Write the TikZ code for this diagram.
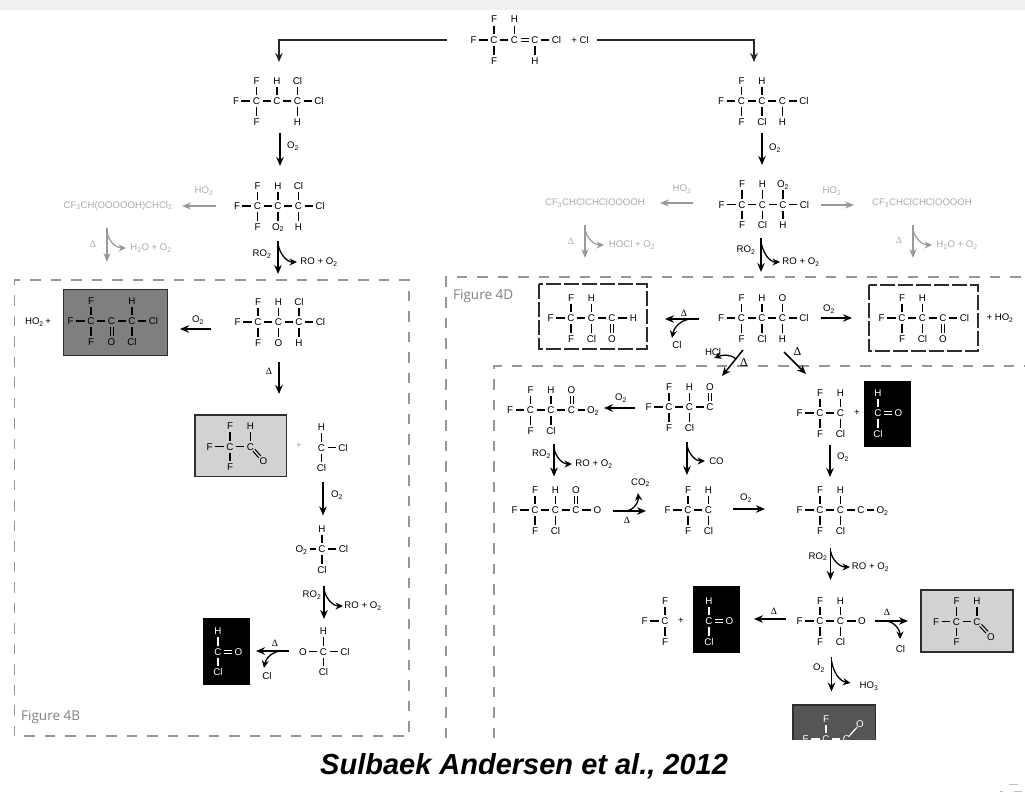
\documentclass[tikz,border=0pt]{standalone}
\usepackage{fontspec}
\setmainfont{Liberation Sans}
\newfontfamily\figfont{Open Sans}
\newfontfamily\serfont{Liberation Serif}
\usetikzlibrary{arrows.meta}
\definecolor{dashgray}{HTML}{969696}
\definecolor{pale}{HTML}{ABABAB}
\definecolor{arrowgray}{HTML}{999999}
\definecolor{lightfill}{HTML}{D2D2D2}
\definecolor{darkfill}{HTML}{7F7F7F}
\definecolor{deepfill}{HTML}{555555}
\definecolor{framedark}{HTML}{2E2E2E}
\newcommand\ssb[1]{\textsubscript{#1}}
\newcommand\dlt{{\serfont Δ}}
\def\nomark{-}\def\kindu{u}\def\kindd{d}\def\kinde{e}
\tikzset{
  atom/.style={font=\fontsize{9.8}{10}\selectfont,inner sep=2.3pt,text height=7pt,text depth=0pt},
  bond/.style={line width=1.4pt},
  dbond/.style={line width=1pt},
  lab/.style={font=\fontsize{9.6}{10}\selectfont,inner sep=0pt},
  palelab/.style={lab,text=pale},
  rxn/.style={line width=1.5pt,draw=black,-{Stealth[length=9pt,width=7.5pt]}},
  bendarr/.style={line width=1.3pt,draw=black,-{Stealth[length=7.5pt,width=7pt]}},
  rxng/.style={line width=1.4pt,draw=arrowgray,-{Stealth[length=9pt,width=7pt]}},
  bendg/.style={line width=1.2pt,draw=arrowgray,-{Stealth[length=7.5pt,width=7pt]}},
  mainarr/.style={line width=1.5pt,draw=black!85,-{Stealth[length=9pt,width=7.5pt]}},
  dashframe/.style={draw=dashgray,line width=1.3pt,dash pattern=on 10.5pt off 10pt},
  inkframe/.style={draw=framedark,line width=1.5pt,dash pattern=on 15pt off 3pt},
  solidbox/.style={draw=framedark,line width=1.2pt},
}
% double bond between two named atoms, lines shifted by +-(dx,dy) pt
\newcommand\Dbl[4]{%
  \draw[dbond,transform canvas={xshift=#3pt,yshift=#4pt}] (#1)--(#2);
  \draw[dbond,transform canvas={xshift=-#3pt,yshift=-#4pt}] (#1)--(#2);}
% diagonal C=O: lines run closer to the letters
\newcommand\DblD[2]{%
  \draw[dbond,shorten <=-3pt,shorten >=-2.5pt,transform canvas={xshift=1pt,yshift=1pt}] (#1)--(#2);
  \draw[dbond,shorten <=-3pt,shorten >=-2.5pt,transform canvas={xshift=-1pt,yshift=-1pt}] (#1)--(#2);}
% molecule: id, x of first carbon, y, left atom, right atom, list top/bottom/kind
\newcommand\Mol[6]{%
  \foreach \mT/\mB/\mK [count=\mI] in {#6}{%
    \pgfmathsetmacro\cx{#2+20.5*(\mI-1)}%
    \pgfmathtruncatemacro\mP{\mI-1}%
    \node[atom] (#1c\mI) at (\cx,#3) {C};
    \ifx\mT\nomark\else
      \node[atom] (#1t\mI) at (\cx,#3-20.5) {\mT};
      \ifx\mK\kindu \Dbl{#1c\mI}{#1t\mI}{1.5}{0}\else \draw[bond] (#1c\mI)--(#1t\mI);\fi
    \fi
    \ifx\mB\nomark\else
      \node[atom] (#1b\mI) at (\cx,#3+20.5) {\mB};
      \ifx\mK\kindd \Dbl{#1c\mI}{#1b\mI}{1.5}{0}\else \draw[bond] (#1c\mI)--(#1b\mI);\fi
    \fi
    \ifnum\mI>1
      \ifx\mK\kinde \Dbl{#1c\mP}{#1c\mI}{0}{1.5}\else \draw[bond] (#1c\mP)--(#1c\mI);\fi
    \fi
    \xdef\lastI{\mI}%
  }%
  \def\tmpL{#4}\ifx\tmpL\empty\else
    \node[atom] (#1L) at (#2-20.5,#3) {#4};
    \draw[bond] (#1L)--(#1c1);
  \fi
  \def\tmpR{#5}\ifx\tmpR\empty\else
    \pgfmathsetmacro\rx{#2+20.5*(\lastI-1)+21.5}%
    \node[atom] (#1R) at (\rx,#3) {#5};
    \draw[bond] (#1c\lastI)--(#1R);
  \fi
}
\newcommand\Lb[5][lab]{\node[#1] (#2) at (#3,#4) {#5};}
\newcommand\At[4]{\node[atom] (#1) at (#2,#3) {#4};}
% straight arrow between two named coordinates
\newcommand\Ar[6][rxn]{\coordinate (#2s) at (#3,#4);\coordinate (#2e) at (#5,#6);\draw[#1] (#2s)--(#2e);}
% curved branch: style, id, sx, sy, ex, ey, out, in
\newcommand\Cv[8][bendarr]{\coordinate (#2s) at (#3,#4);\coordinate (#2e) at (#5,#6);\draw[#1] (#2s) to[out=#7,in=#8] (#2e);}
\begin{document}
\begin{tikzpicture}[x=1pt,y=-1pt]
\useasboundingbox (0,0) rectangle (1025,795);
\fill[white] (0,0) rectangle (1025,795);
\fill[black!6] (0,0) rectangle (1025,10);
% ---- dashed frames
\draw[dashframe] (14.5,736)--(14.5,280)--(409,280)--(409,736)--cycle;
\draw[dashframe] (446,738)--(446,277)--(1025,277);
\draw[dashframe] (494,738)--(494,366)--(1025,366);
\node[font=\figfont\fontsize{13.5}{15}\selectfont,text=black!50,inner sep=0pt,anchor=west] (figB) at (21,717) {Figure 4B};
\node[font=\figfont\fontsize{13.5}{15}\selectfont,text=black!50,inner sep=0pt,anchor=west] (figD) at (453,296) {Figure 4D};
% ---- top
\Mol{top}{494}{40}{F}{Cl}{F/F/s,H/-/s,-/H/e}
\Lb{plusCl}{580}{40}{+ Cl}
\coordinate (tla) at (447,40);\coordinate (tlb) at (279,40);\coordinate (tlc) at (279,62);
\draw[mainarr] (tla)--(tlb)--(tlc);
\coordinate (tra) at (597,40);\coordinate (trb) at (754,40);\coordinate (trc) at (754,62);
\draw[mainarr] (tra)--(trb)--(trc);
% ---- left column
\Mol{a}{256.5}{101}{F}{Cl}{F/F/s,H/-/s,Cl/H/s}
\Ar{aa}{280}{133}{280}{166}\Lb{aal}{293}{146}{O\ssb{2}}
\Mol{b}{257.5}{206}{F}{Cl}{F/F/s,H/O\ssb{2}/s,Cl/H/s}
\Ar[rxng]{ba}{216}{206}{182}{206}\Lb[palelab]{bal}{204}{191}{HO\ssb{2}}
\Lb[palelab]{bg}{118}{206}{CF\ssb{3}CH(OOOOOH)CHCl\ssb{2}}
\Ar[rxng]{bd}{107}{228}{107}{262}\Cv[bendg]{bc}{107}{232}{126}{248}{-80}{180}
\Lb[palelab]{bdl}{93}{244}{\dlt}\Lb[palelab]{bcl}{151}{248}{H\ssb{2}O + O\ssb{2}}
\Ar{ca}{278}{241}{278}{274}\Cv{cb}{278}{244}{297}{262}{-80}{180}
\Lb{cal}{262}{254}{RO\ssb{2}}\Lb{cbl}{319}{262}{RO + O\ssb{2}}
% ---- 4B box
\draw[solidbox,fill=darkfill] (63.5,289.5) rectangle (167.5,355.5);
\Mol{p}{91}{321}{F}{Cl}{F/F/s,-/O/d,H/Cl/s}
\Lb{hop}{38}{322}{HO\ssb{2}\,+}
\Ar{pa}{211}{329}{180}{329}\Lb{pal}{198}{320}{O\ssb{2}}
\Mol{c}{258}{322}{F}{Cl}{F/F/s,H/O/s,Cl/H/s}
\Ar{da}{279}{362}{279}{394}\Lb{dal}{269}{371}{\dlt}
\draw[solidbox,fill=lightfill] (195,415) rectangle (286.5,476.5);
\Mol{q}{230}{446.5}{F}{}{F/F/s,H/-/s}
\At{qo}{263.5}{461}{O}\DblD{qc2}{qo}
\Lb[palelab]{qp}{299}{446}{+}
\Mol{r}{321.5}{447.5}{}{Cl}{H/Cl/s}
\Ar{ra}{323}{482}{323}{515.5}\Lb{ral}{337}{495}{O\ssb{2}}
\Mol{s}{322}{549}{O\ssb{2}}{Cl}{H/Cl/s}
\Ar{sa}{324}{586}{324}{619}\Cv{sb}{324}{589}{343}{606}{-80}{180}
\Lb{sal}{312}{595}{RO\ssb{2}}\Lb{sbl}{363}{606}{RO + O\ssb{2}}
\Mol{t}{323.5}{651.5}{O}{Cl}{H/Cl/s}
\Ar{ta}{289}{651}{256}{651}\Cv{tb}{282}{651}{264}{668}{180}{80}
\Lb{tal}{275}{643}{\dlt}\At{tcl}{267}{676}{Cl}
\fill[black] (202.5,618) rectangle (249.5,685);
\begin{scope}[color=white]
\Mol{u}{218}{651.5}{}{}{H/Cl/s}
\At{uo}{238.5}{651.5}{O}\Dbl{uc1}{uo}{0}{1.5}
\end{scope}
% ---- right column
\Mol{d}{741.5}{101}{F}{Cl}{F/F/s,H/Cl/s,-/H/s}
\Ar{ea}{762}{133}{762}{165}\Lb{eal}{775}{148}{O\ssb{2}}
\Mol{e}{742}{204.5}{F}{Cl}{F/F/s,H/Cl/s,O\ssb{2}/H/s}
\Ar[rxng]{ga}{693}{203}{660}{203}\Lb[palelab]{gal}{682}{189}{HO\ssb{2}}
\Lb[palelab]{gl}{595}{203}{CF\ssb{3}CHClCHClOOOOH}
\Ar[rxng]{ha}{821}{205}{854}{205}\Lb[palelab]{hal}{832}{191}{HO\ssb{2}}
\Lb[palelab]{hl}{922}{203}{CF\ssb{3}CHClCHClOOOOH}
\Ar[rxng]{gd}{585}{225}{585}{258}\Cv[bendg]{gc}{585}{229}{604}{245}{-80}{180}
\Lb[palelab]{gdl}{571}{241}{\dlt}\Lb[palelab]{gcl}{632}{245}{HOCl + O\ssb{2}}
\Ar[rxng]{hd}{913}{225}{913}{258}\Cv[bendg]{hc}{913}{229}{932}{245}{-80}{180}
\Lb[palelab]{hdl}{899}{240}{\dlt}\Lb[palelab]{hcl}{957}{245}{H\ssb{2}O + O\ssb{2}}
\Ar{ia}{761}{238}{761}{272}\Cv{ib}{761}{242}{780}{262}{-80}{180}
\Lb{ial}{746}{250}{RO\ssb{2}}\Lb{ibl}{801}{262}{RO + O\ssb{2}}
% ---- 4D row
\Mol{f}{741.5}{318}{F}{Cl}{F/F/s,H/Cl/s,O/H/s}
\draw[inkframe] (539,284) rectangle (647,349);
\Mol{v}{571}{318}{F}{H}{F/F/s,H/Cl/s,-/O/d}
\Ar{fa}{699}{319}{665}{319}\Cv{fb}{692}{319}{672}{338}{180}{80}
\Lb{fal}{684}{313}{\dlt}\At{fcl}{677}{345}{Cl}
\Ar{fo}{820.5}{318}{852}{318}\Lb{fol}{829}{309}{O\ssb{2}}
\draw[inkframe] (869,285) rectangle (978,351);
\Mol{w}{902}{318}{F}{Cl}{F/F/s,H/Cl/s,-/O/d}
\Lb{hoq}{1000}{318}{+ HO\ssb{2}}
\Ar{fh}{743}{350}{722}{376}\Cv{fi}{736}{359}{714}{358}{140}{20}
\Lb{fil}{713}{352}{HCl}
\node[lab,font=\serfont\fontsize{12}{12}\selectfont] (fhl) at (744,363) {Δ};
\Ar{fr}{784}{352}{806}{374}
\node[lab,font=\serfont\fontsize{12}{12}\selectfont] (frl) at (797.5,352) {Δ};
% ---- inner box
\Mol{g}{530.5}{410}{F}{O\ssb{2}}{F/F/s,H/Cl/s,O/-/u}
\Ar{ga2}{635}{408}{604}{408}\Lb{ga2l}{621}{398}{O\ssb{2}}
\Mol{h}{669}{407}{F}{}{F/F/s,H/Cl/s,O/-/u}
\Ar{hb}{687}{441.5}{687}{475}\Cv{hc2}{687}{445}{705}{461}{-80}{180}\Lb{hbl}{716.5}{461}{CO}
\Ar{gb}{554}{444}{554}{476.5}\Cv{gc2}{554}{448}{572}{464}{-80}{180}
\Lb{gbl}{541.5}{454}{RO\ssb{2}}\Lb{gcl2}{594}{464}{RO + O\ssb{2}}
\Mol{i}{535}{510}{F}{O}{F/F/s,H/Cl/s,O/-/u}
\Ar{ib2}{613}{511}{646}{511}\Cv{ic2}{625}{511}{638}{493}{0}{-85}
\Lb{ibl2}{627}{520}{\dlt}\Lb{icl2}{640.5}{482.5}{CO\ssb{2}}
\Mol{j}{688}{510}{F}{}{F/F/s,H/Cl/s}
\Ar{ja}{733}{509}{765}{509}\Lb{jal}{746}{498}{O\ssb{2}}
\Mol{k}{820}{413}{F}{}{F/F/s,H/Cl/s}
\Lb{kp}{857}{413}{+}
\fill[black] (864,381) rectangle (911,447);
\begin{scope}[color=white]
\Mol{x}{878}{413}{}{}{H/Cl/s}
\At{xo}{898.5}{413}{O}\Dbl{xc1}{xo}{0}{1.5}
\end{scope}
\Ar{ka}{830}{445}{830}{477}\Lb{kal}{843}{457}{O\ssb{2}}
\Mol{l}{820}{510}{F}{O\ssb{2}}{F/F/s,H/Cl/s,-/-/s}
\Ar{la}{830.5}{548}{830.5}{580}\Cv{lb}{830.5}{551}{850}{567}{-80}{180}
\Lb{lal}{818}{556.5}{RO\ssb{2}}\Lb{lbl}{870.5}{567}{RO + O\ssb{2}}
\Mol{m}{820}{621}{F}{O}{F/F/s,H/Cl/s}
\Ar{ma}{786}{619}{754}{619}\Lb{mal}{774}{611}{\dlt}
\Mol{n}{665}{621}{F}{}{F/F/s}
\Lb{np}{681}{621}{+}
\fill[black] (693,586) rectangle (740,653);
\begin{scope}[color=white]
\Mol{y}{709}{621}{}{}{H/Cl/s}
\At{yo}{729.5}{621}{O}\Dbl{yc1}{yo}{0}{1.5}
\end{scope}
\Ar{mb}{875}{621}{908}{621}\Cv{mc}{885}{621}{900}{639}{0}{90}
\Lb{mbl}{887}{612}{\dlt}\At{mcl}{900.5}{649}{Cl}
\draw[solidbox,fill=lightfill] (921,590) rectangle (1013,652);
\Mol{z}{956.5}{621.5}{F}{}{F/F/s,H/-/s}
\At{zo}{991}{636.5}{O}\DblD{zc2}{zo}
\Ar{mo}{831.5}{657}{831.5}{691.5}\Cv{mo2}{831.5}{661}{850.5}{683}{-80}{170}
\Lb{mol}{819}{668}{O\ssb{2}}\Lb{mo2l}{869}{686}{HO\ssb{3}}
\draw[solidbox,fill=deepfill] (793,705) rectangle (875.5,745);
\begin{scope}[color=white]
\Mol{o}{826}{739}{F}{}{F/-/s,-/-/s}
\At{oo}{860}{724}{O}\DblD{oc2}{oo}
\end{scope}
\fill[white] (780,739.5) rectangle (890,795);
% ---- caption
\node[font=\bfseries\itshape\fontsize{29}{32}\selectfont,inner sep=0pt,anchor=west] (cap) at (320,766) {Sulbaek Andersen et al., 2012};
\draw[black!25,line width=0.8pt] (1009,784)--(1018,784) (1000,791)--(1003,791) (1014,791)--(1022,791);
\end{tikzpicture}
\end{document}
